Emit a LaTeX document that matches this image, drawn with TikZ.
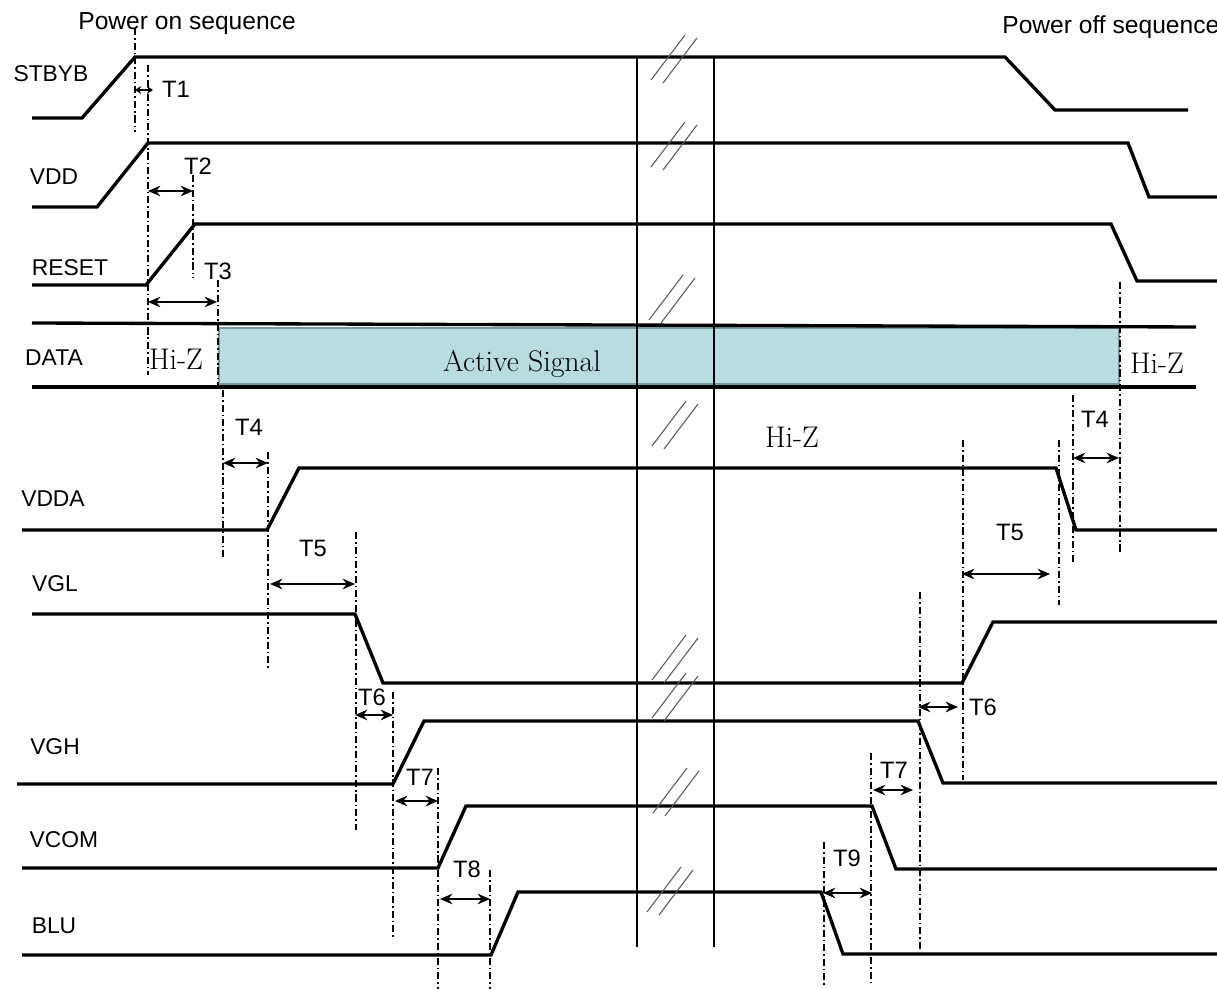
\documentclass[tikz,border=0pt]{standalone}
\usepackage{fontspec}
\usepackage{xcolor}
\usepackage{tikz}
\definecolor{datafill}{RGB}{184, 220, 224}
\definecolor{dataedge}{RGB}{122, 152, 158}
\newfontfamily\sigfont{Liberation Sans}
\usetikzlibrary{arrows.meta}

\begin{document}
\begin{tikzpicture}[
    x=0.02cm, y=-0.02cm,
    sig/.style={line width=1.9pt},
    brkline/.style={line width=1.2pt},
    guide/.style={line width=0.7pt, dash pattern=on 4pt off 1.7pt on 0.9pt off 1.7pt},
    tspan/.style={line width=1pt, {Stealth[length=7pt,width=6pt]}-{Stealth[length=7pt,width=6pt]}},
    slash/.style={line width=0.6pt, draw=black!65},
    brk/.pic={\draw[slash] (0,0) -- (34,-45); \draw[slash] (12,3) -- (46,-42);},
    signame/.style={font=\sigfont\fontsize{13}{13}\selectfont, inner sep=0pt},
    title/.style={font=\sigfont\fontsize{14}{14}\selectfont, inner sep=0pt},
    tlabel/.style={font=\sigfont\fontsize{13.5}{13.5}\selectfont, inner sep=0pt},
    hiz/.style={font=\fontsize{17}{17}\selectfont, inner sep=0pt}
]
    \useasboundingbox (0,0) rectangle (1217,989);

    % Titles
    \node[title, anchor=base west] (poweron) at (78,30) {Power on sequence};
    \node[title, anchor=base west] (poweroff) at (1002,34) {Power off sequence};

    % Signal names
    \node[signame] (stbyb) at (51,74) {STBYB};
    \node[signame] (vdd) at (54,177) {VDD};
    \node[signame] (reset) at (70,268) {RESET};
    \node[signame] (data) at (54,358) {DATA};
    \node[signame] (vdda) at (53,499) {VDDA};
    \node[signame] (vgl) at (55,584) {VGL};
    \node[signame] (vgh) at (55,747) {VGH};
    \node[signame] (vcom) at (64,840) {VCOM};
    \node[signame] (blu) at (54,926) {BLU};

    % DATA bus
    \filldraw[fill=datafill, draw=dataedge, line width=1pt] (219,328) rectangle (1119,384);
    \draw[sig] (32,323) -- (1196,327);
    \draw[sig] (32,387) -- (1196,387);

    % Waveforms
    \draw[sig] (32,118) -- (82,118) -- (135,57) -- (1005,57) -- (1055,110) -- (1188,110);
    \draw[sig] (32,207) -- (97,207) -- (148,143) -- (1128,143) -- (1149,197) -- (1217,197);
    \draw[sig] (32,285) -- (146,285) -- (195,224) -- (1111,224) -- (1137,281) -- (1217,281);
    \draw[sig] (22,530) -- (267,530) -- (299,468) -- (1056,468) -- (1076,530) -- (1217,530);
    \draw[sig] (32,614) -- (355,614) -- (383,683) -- (962,683) -- (993,622) -- (1217,622);
    \draw[sig] (17,784) -- (393,784) -- (424,721) -- (918,721) -- (943,783) -- (1217,783);
    \draw[sig] (22,868) -- (438,868) -- (466,806) -- (872,806) -- (896,869) -- (1217,869);
    \draw[sig] (22,955) -- (491,955) -- (518,892) -- (821,892) -- (843,954) -- (1217,954);

    % Time break
    \draw[brkline] (637,57) -- (637,947);
    \draw[brkline] (714,57) -- (714,947);
    \pic at (651,80) {brk};
    \pic at (651,167) {brk};
    \pic at (649,320) {brk};
    \pic at (652,446) {brk};
    \pic at (652,680) {brk};
    \pic at (652,718) {brk};
    \pic at (653,813) {brk};
    \pic at (647,912) {brk};

    % Bus states
    \node[hiz] (hizon) at (176,359) {Hi-Z};
    \node[hiz, anchor=base] (active) at (522,372) {Active Signal};
    \node[hiz] (hizoff) at (1157,363) {Hi-Z};
    \node[hiz] (hizmid) at (792,437) {Hi-Z};

    % Guide lines, power on
    \draw[guide] (135,28) -- (135,132);
    \draw[guide] (148,65) -- (148,375);
    \draw[guide] (193,175) -- (193,278);
    \draw[guide] (218,280) -- (218,386);
    \draw[guide] (223,390) -- (223,557);
    \draw[guide] (268,452) -- (268,670);
    \draw[guide] (356,532) -- (356,830);
    \draw[guide] (393,692) -- (393,938);
    \draw[guide] (438,768) -- (438,989);
    \draw[guide] (490,870) -- (490,989);

    % Guide lines, power off
    \draw[guide] (824,842) -- (824,985);
    \draw[guide] (871,753) -- (871,985);
    \draw[guide] (920,592) -- (920,950);
    \draw[guide] (963,440) -- (963,780);
    \draw[guide] (1059,440) -- (1059,605);
    \draw[guide] (1073,395) -- (1073,562);
    \draw[guide] (1120,282) -- (1120,553);

    % Delays
    \draw[tspan, {Stealth[length=3.5pt,width=4.5pt]}-{Stealth[length=3.5pt,width=4.5pt]}] (135,90) -- (153,90);
    \node[tlabel] (t1) at (176,89) {T1};
    \draw[tspan] (148,191) -- (193,191);
    \node[tlabel] (t2) at (198,166) {T2};
    \draw[tspan] (148,302) -- (217,302);
    \node[tlabel] (t3) at (218,271) {T3};
    \draw[tspan] (223,463) -- (268,463);
    \node[tlabel] (t4on) at (249,427) {T4};
    \draw[tspan] (270,584) -- (355,584);
    \node[tlabel] (t5on) at (313,548) {T5};
    \draw[tspan] (355,715) -- (393,715);
    \node[tlabel] (t6on) at (372,697) {T6};
    \draw[tspan] (395,801) -- (438,801);
    \node[tlabel] (t7on) at (420,777) {T7};
    \draw[tspan] (440,899) -- (490,899);
    \node[tlabel] (t8) at (467,869) {T8};

    \draw[tspan] (1073,458) -- (1119,458);
    \node[tlabel] (t4off) at (1095,419) {T4};
    \draw[tspan] (962,574) -- (1050,574);
    \node[tlabel] (t5off) at (1010,532) {T5};
    \draw[tspan] (918,707) -- (958,707);
    \node[tlabel] (t6off) at (983,707) {T6};
    \draw[tspan] (873,790) -- (913,790);
    \node[tlabel] (t7off) at (894,770) {T7};
    \draw[tspan] (823,893) -- (872,893);
    \node[tlabel] (t9) at (847,858) {T9};

\end{tikzpicture}
\end{document}
